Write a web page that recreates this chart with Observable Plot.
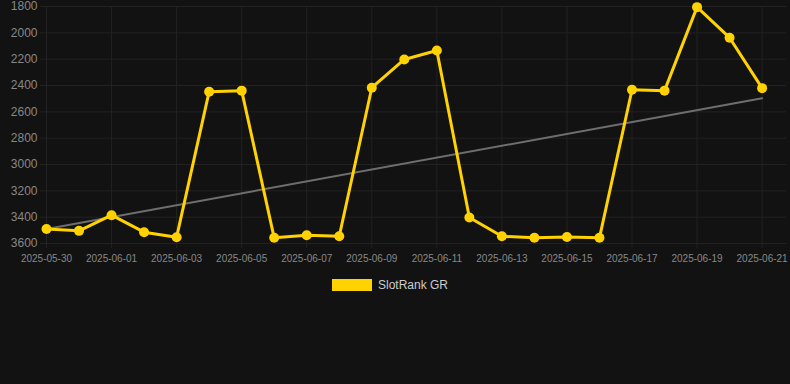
<!DOCTYPE html>
<html><head><meta charset="utf-8">
<script src="https://cdn.jsdelivr.net/npm/d3@7"></script>
<script src="https://cdn.jsdelivr.net/npm/@observablehq/plot@0.6"></script>
<style>
body{margin:0;background:#121212;font-family:"Liberation Sans",Arial,Helvetica,sans-serif;}
#chart svg{display:block;}
#legend{display:flex;justify-content:center;align-items:center;gap:6px;margin-top:8px;color:#cccccc;font-size:12px;padding-right:10px;}
#legend .sw{display:inline-block;width:40px;height:12px;background:#FFD200;}
</style></head><body>
<div id="chart"></div>
<div id="legend"><span class="sw"></span><span id="lname"></span></div>
<script>
const seriesName = "SlotRank GR";
const dates = ["2025-05-30","2025-05-31","2025-06-01","2025-06-02","2025-06-03","2025-06-04","2025-06-05","2025-06-06","2025-06-07","2025-06-08","2025-06-09","2025-06-10","2025-06-11","2025-06-12","2025-06-13","2025-06-14","2025-06-15","2025-06-16","2025-06-17","2025-06-18","2025-06-19","2025-06-20","2025-06-21"];
const ranks = [3490,3504,3385,3514,3552,2447,2439,3557,3537,3545,2417,2202,2134,3403,3545,3557,3550,3557,2432,2439,1805,2037,2420];
const trendDates = ["2025-05-30","2025-06-21"];
const trendValues = [3490,2497];
const xTickLabels = ["2025-05-30","2025-06-01","2025-06-03","2025-06-05","2025-06-07","2025-06-09","2025-06-11","2025-06-13","2025-06-15","2025-06-17","2025-06-19","2025-06-21"];
const yTicks = [1800,2000,2200,2400,2600,2800,3000,3200,3400,3600];

document.getElementById("lname").textContent = seriesName;

const data = dates.map((d,i)=>({date:new Date(d+"T00:00:00Z"), rank:ranks[i]}));
const trend = trendDates.map((d,i)=>({date:new Date(d+"T00:00:00Z"), rank:trendValues[i]}));
const xTicks = xTickLabels.map(d=>new Date(d+"T00:00:00Z"));
const xStart = new Date("2025-05-30T00:00:00Z");
const xEnd = new Date(Date.UTC(2025,5,21,18,0,0));
const gold = "#FFD200";
const grid = "#222222";

const chart = Plot.plot({
  width: 790,
  height: 270,
  marginTop: 6,
  marginBottom: 27,
  marginLeft: 46,
  marginRight: 4,
  style: {background:"#121212", color:"#888888", fontFamily:"'Liberation Sans',Arial,sans-serif", overflow:"visible"},
  x: {type:"utc", domain:[xStart, xEnd]},
  y: {domain:[1800,3600], reverse:true},
  marks: [
    Plot.ruleY(yTicks, {y:d=>d, stroke:grid, strokeWidth:1, insetLeft:-6}),
    Plot.ruleX(xTicks, {x:d=>d, stroke:grid, strokeWidth:1, insetBottom:-5}),
    Plot.axisY({ticks:yTicks, tickSize:0, tickPadding:9, fontSize:12, fill:"#888888", label:null, tickFormat:d=>String(d)}),
    Plot.axisX({ticks:xTicks, tickSize:0, tickPadding:11, fontSize:10, fill:"#888888", label:null, tickFormat:d3.utcFormat("%Y-%m-%d")}),
    Plot.line(trend, {x:"date", y:"rank", stroke:"#6e6e6e", strokeWidth:2}),
    Plot.line(data, {x:"date", y:"rank", stroke:gold, strokeWidth:3, curve:"linear"}),
    Plot.dot(data, {x:"date", y:"rank", r:5, fill:gold, stroke:gold, strokeWidth:0})
  ]
});
document.getElementById("chart").appendChild(chart);
</script>
</body></html>
